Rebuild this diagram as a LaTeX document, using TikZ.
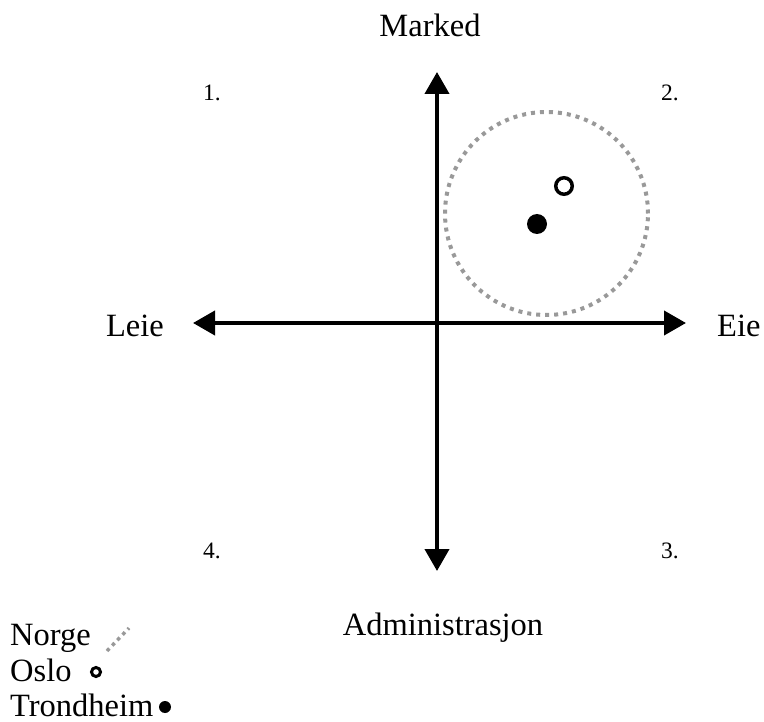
\documentclass[tikz,border=0pt]{standalone}
\usepackage{fontspec}
\setmainfont{Liberation Serif}
\usetikzlibrary{arrows.meta}

\begin{document}
\begin{tikzpicture}[x=1pt,y=-1pt,
  axis/.style={line width=4pt,{Triangle[length=22pt,width=24pt]}-{Triangle[length=22pt,width=24pt]}},
  lbl/.style={font=\fontsize{32.5}{37}\selectfont,inner sep=0pt},
  num/.style={font=\fontsize{23.5}{28}\selectfont,inner sep=0pt,anchor=base west},
  norgeline/.style={draw=gray!80,line width=4pt,dash pattern=on 4pt off 5pt},
  oslodot/.style={circle,draw,line width=3.5pt,inner sep=0pt,minimum size=16.5pt},
  trddot/.style={circle,fill,inner sep=0pt,minimum size=20pt}]
\useasboundingbox (0,0) rectangle (764,722);

% Axes
\coordinate (west) at (193,323);
\coordinate (east) at (686,323);
\coordinate (north) at (437,72);
\coordinate (south) at (437,571);
\draw[axis] (west) -- (east);
\draw[axis] (south) -- (north);

% Axis labels
\node[lbl,anchor=base east] (leie) at (164,337) {Leie};
\node[lbl,anchor=base west] (eie) at (717,337) {Eie};
\node[lbl,anchor=base] (marked) at (430,37) {Marked};
\node[lbl,anchor=base] (adm) at (443,635) {Administrasjon};

% Quadrant numbers
\node[num] (q1) at (203,101) {1.};
\node[num] (q2) at (661,101) {2.};
\node[num] (q3) at (661,558) {3.};
\node[num] (q4) at (203,558) {4.};

% Norge, Oslo, Trondheim
\node[norgeline,circle,inner sep=0pt,minimum size=203pt] (norge) at (546.5,213.5) {};
\node[oslodot] (oslo) at (564,186) {};
\node[trddot] (trd) at (537,224) {};

% Legend
\node[lbl,anchor=base west] (lnorge) at (10,645) {Norge};
\node[lbl,anchor=base west] (loslo) at (10,681) {Oslo};
\node[lbl,anchor=base west] (ltrd) at (10,716) {Trondheim};
\coordinate (n1) at (107,651);
\coordinate (n2) at (129,628);
\draw[norgeline,line width=3.5pt,dash pattern=on 3.5pt off 4pt] (n1) -- (n2);
\node[oslodot,line width=3pt,minimum size=9pt] (losloc) at (96,672) {};
\node[trddot,minimum size=12pt] (ltrdc) at (165,707) {};

\end{tikzpicture}
\end{document}
